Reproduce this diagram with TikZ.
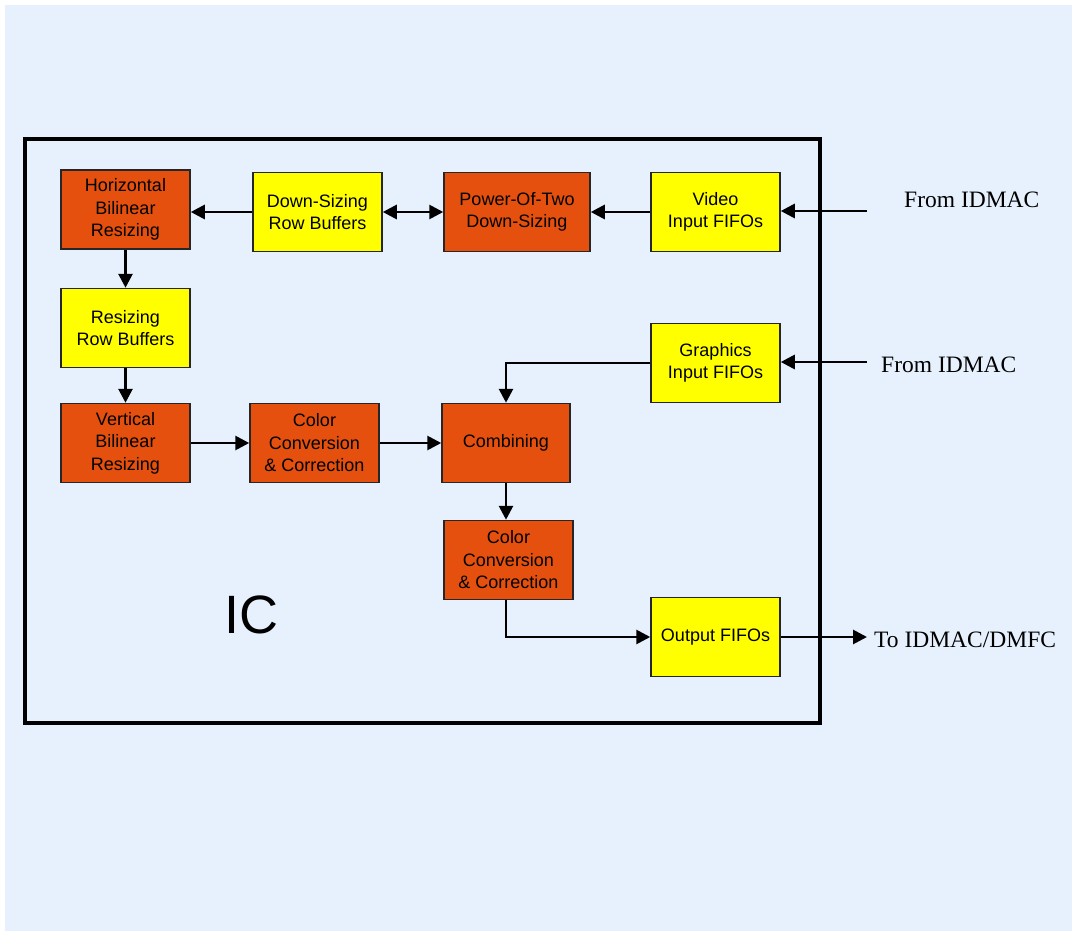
\documentclass[tikz,border=0pt]{standalone}
\usepackage{fontspec}
\setmainfont{Liberation Sans}
\newfontfamily\labelfont{Liberation Serif}
\usetikzlibrary{arrows.meta}

\definecolor{bgblue}{HTML}{E7F1FD}
\definecolor{icorange}{HTML}{E6500F}
\definecolor{icyellow}{HTML}{FFFF00}

\tikzset{
	block/.style={draw=black!85, line width=1.5pt, minimum width=129pt, minimum height=79pt,
		inner sep=0pt, align=center, font=\fontsize{18}{22.5}\selectfont},
	proc/.style={block, fill=icorange},
	buf/.style={block, fill=icyellow},
	flow/.style={line width=2.8pt, -{Triangle[length=14pt,width=14pt]}},
	flowboth/.style={line width=2.8pt, {Triangle[length=14pt,width=14pt]}-{Triangle[length=14pt,width=14pt]}},
	io/.style={font=\labelfont\fontsize{23.5}{27}\selectfont, anchor=west, inner sep=0pt}
}

\begin{document}
\begin{tikzpicture}[x=1pt, y=-1pt]
	
		\fill[white] (0,0) rectangle (1072,931);
		\fill[bgblue] (5,5) rectangle (1072,931);
		\useasboundingbox (0,0) rectangle (1072,931);
		
		% the IC frame
		\draw[line width=4pt] (25,139) rectangle (820,723);
		\node[font=\fontsize{54}{60}\selectfont] (iclab) at (251,615) {IC};
		
		% blocks
		\node[proc] (hbr) at (125.5,209.5) {Horizontal\\Bilinear\\Resizing};
		\node[buf] (dsrb) at (317.5,212) {Down-Sizing\\Row Buffers};
		\node[proc, minimum width=146pt] (ptds) at (517,212) {Power-Of-Two\\Down-Sizing};
		\node[buf] (vif) at (715.5,212) {Video\\Input FIFOs};
		\node[buf] (rrb) at (125.5,328) {Resizing\\Row Buffers};
		\node[buf] (gif) at (715.5,363) {Graphics\\Input FIFOs};
		\node[proc] (vbr) at (125.5,443) {Vertical\\Bilinear\\Resizing};
		\node[proc] (cc1) at (314.5,443) {Color\\Conversion\\\& Correction};
		\node[proc, minimum width=128pt] (comb) at (506,443) {Combining};
		\node[proc] (cc2) at (508.5,560) {Color\\Conversion\\\& Correction};
		\node[buf] (ofifo) at (715.5,637) {Output FIFOs};
		
		% outside world
		\coordinate (vin) at (867,211);
		\coordinate (gin) at (867,362);
		\coordinate (oout) at (867,636);
		\node[io] (vlab) at (904,200) {From IDMAC};
		\node[io] (glab) at (881,365) {From IDMAC};
		\node[io] (olab) at (874,640) {To IDMAC/DMFC};
		
		% data paths
		\draw[flow] (vin) -- (vif.east |- vin);
		\draw[flow] (vif.west) -- (ptds.east);
		\draw[flowboth] (dsrb.east) -- (ptds.west);
		\draw[flow] (dsrb.west) -- (hbr.east |- dsrb.west);
		\draw[flow] (hbr.south) -- (rrb.north);
		\draw[flow] (rrb.south) -- (vbr.north);
		\draw[flow] (vbr.east) -- (cc1.west);
		\draw[flow] (cc1.east) -- (comb.west);
		\draw[flow] (gin) -- (gif.east |- gin);
		\draw[flow] (gif.west) -| (comb.north);
		\draw[flow] (comb.south) -- (comb.south |- cc2.north);
		\draw[flow] (cc2.south -| comb.south) |- (ofifo.west);
		\draw[flow] (ofifo.east) -- (ofifo.east -| oout);
	\end{tikzpicture}
\end{document}
